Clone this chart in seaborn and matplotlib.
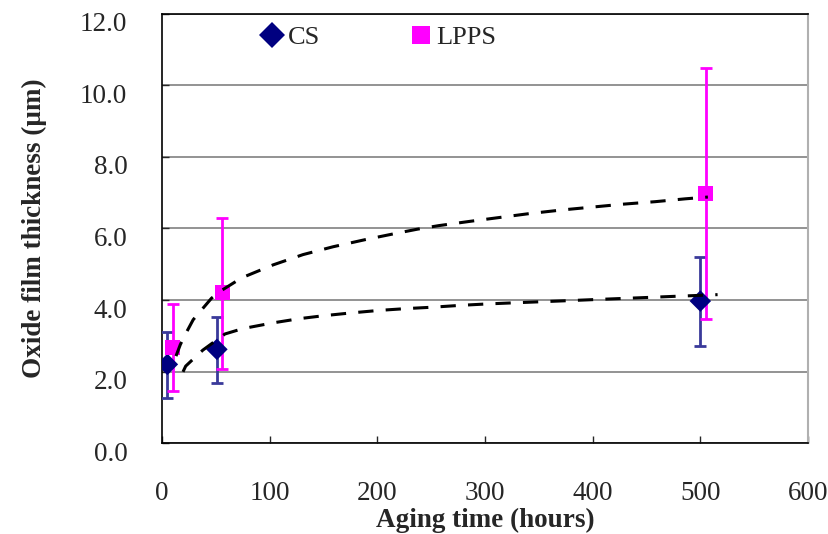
import numpy as np
import pandas as pd
import matplotlib
matplotlib.use("Agg")
import matplotlib.pyplot as plt
import matplotlib.transforms as mtransforms
import seaborn as sns

# measured points (aging time in hours, thickness in um)
cs_time = [5, 51, 500]
cs_thick = [2.2, 2.62, 3.97]
cs_err_low = [1.25, 1.68, 2.72]
cs_err_high = [3.1, 3.53, 5.2]

lpps_time = [10, 56, 505]
lpps_thick = [2.68, 4.22, 6.98]
lpps_err_low = [1.45, 2.08, 3.48]
lpps_err_high = [3.9, 6.3, 10.5]

# trend curves
cs_fit_x = [19.5, 22, 28, 38, 58.5, 75, 103, 128, 150, 176, 202, 227, 252, 277,
            302, 326, 351, 376, 400, 425, 450, 474, 500, 516]
cs_fit_y = [1.99, 2.15, 2.32, 2.6, 3.05, 3.2, 3.36, 3.48, 3.56, 3.64, 3.71, 3.76,
            3.8, 3.85, 3.89, 3.92, 3.95, 3.98, 4.01, 4.04, 4.07, 4.1, 4.13, 4.15]
lpps_fit_x = [13, 17, 21, 29, 46, 56, 74, 103, 131, 159, 189, 215, 237, 257, 286,
              314, 342, 372, 400, 428, 458, 486, 507]
lpps_fit_y = [2.43, 2.75, 3.0, 3.45, 4.05, 4.28, 4.62, 4.98, 5.27, 5.49, 5.69, 5.85,
              5.98, 6.08, 6.2, 6.31, 6.42, 6.52, 6.6, 6.68, 6.75, 6.83, 6.88]

df = pd.DataFrame({
    "time": cs_time + lpps_time,
    "thick": cs_thick + lpps_thick,
    "series": ["CS"] * 3 + ["LPPS"] * 3,
})

sns.set_style("white")
plt.rcParams["font.family"] = ["Liberation Serif", "DejaVu Serif"]

fig = plt.figure(figsize=(8.29, 5.34), dpi=100)
ax = fig.add_axes([0.1954, 0.1704, 0.7793, 0.8034])

# error bars
ax.errorbar(cs_time, cs_thick,
            yerr=[np.array(cs_thick) - cs_err_low, np.array(cs_err_high) - cs_thick],
            fmt="none", ecolor="#3a3a9a", elinewidth=2, capsize=4, capthick=2, zorder=3)
ax.errorbar(lpps_time, lpps_thick,
            yerr=[np.array(lpps_thick) - lpps_err_low, np.array(lpps_err_high) - lpps_thick],
            fmt="none", ecolor="#ff00ff", elinewidth=2, capsize=4, capthick=2, zorder=3)

sns.scatterplot(data=df, x="time", y="thick", hue="series", style="series",
                palette={"CS": "#000080", "LPPS": "#ff00ff"},
                markers={"CS": "D", "LPPS": "s"}, s=120, linewidth=0,
                ax=ax, zorder=4)

# trend lines
ax.plot(cs_fit_x, cs_fit_y, color="black", lw=2.2, ls=(0, (5, 4)), zorder=5)
ax.plot(lpps_fit_x, lpps_fit_y, color="black", lw=2.2, ls=(0, (5, 4)), zorder=5)

ax.set_xlim(0, 600)
ax.set_ylim(0, 12)
ax.set_xticks(range(0, 601, 100))
ax.set_yticks(np.arange(0, 12.1, 2))
ax.set_yticklabels([f"{v:.1f}" for v in np.arange(0, 12.1, 2)])
ax.yaxis.grid(True, color="#808080", lw=1.2)
ax.xaxis.grid(False)
ax.set_axisbelow(True)

ax.tick_params(axis="x", direction="in", length=5, width=1, pad=27, labelsize=19.5, bottom=True)
ax.tick_params(axis="y", direction="in", length=5, width=1, pad=25, labelsize=19.5, left=True)
# y tick labels sit a little below their gridlines in the original
shift = mtransforms.ScaledTranslation(0, -8 / 100, fig.dpi_scale_trans)
for lab in ax.get_yticklabels():
    lab.set_transform(lab.get_transform() + shift)

for s in ["left", "bottom", "top"]:
    ax.spines[s].set_color("black")
    ax.spines[s].set_linewidth(1.2)
ax.spines["right"].set_color("#b0b0b0")
ax.spines["right"].set_linewidth(1.5)

ax.set_xlabel("Aging time (hours)", fontsize=19.5, fontweight="bold", labelpad=2)
ax.set_ylabel("Oxide film thickness (\u03bcm)", fontsize=19.5, fontweight="bold", labelpad=24)

handles, labels = ax.get_legend_handles_labels()
ax.legend(handles, labels, ncol=2, loc="center left", bbox_to_anchor=(0.138, 0.945),
          frameon=False, fontsize=19, handlelength=0.8, handletextpad=0.2,
          columnspacing=3.4, borderaxespad=0, markerscale=1.2)

fig.savefig("out.png", dpi=100)
